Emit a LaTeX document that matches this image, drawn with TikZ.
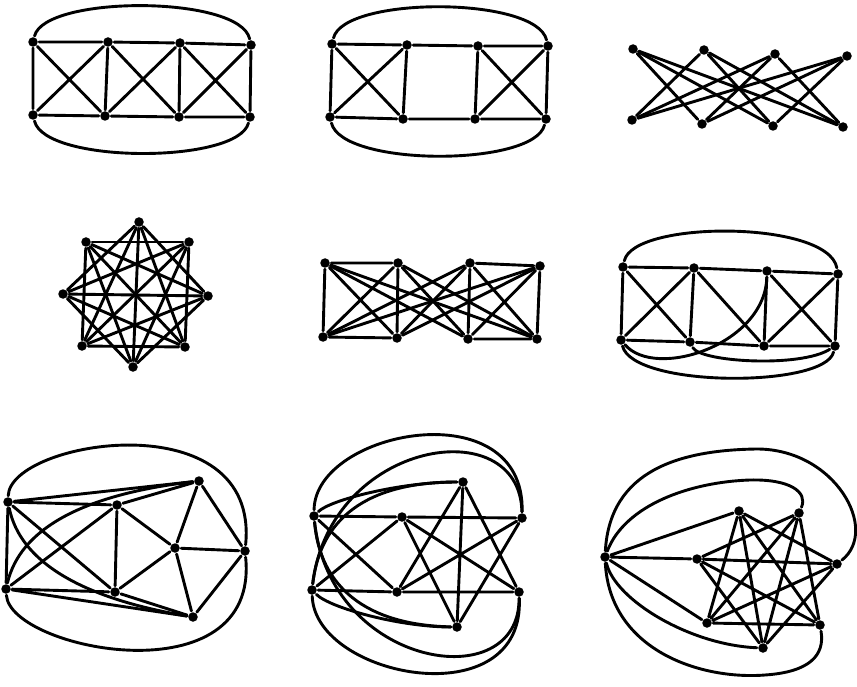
\documentclass[tikz,border=0pt]{standalone}
\begin{document}
\begin{tikzpicture}[x=1pt,y=-1pt,line width=2.9pt,line cap=round,line join=round,
  vtx/.style={circle,fill=black,inner sep=0pt,minimum size=9.5pt}]
\useasboundingbox (0,0) rectangle (857,687);
% ---------- Graph 1 ----------
\node[vtx] (a1) at (33,42) {};  \node[vtx] (a2) at (108,42) {};
\node[vtx] (a3) at (180,43) {}; \node[vtx] (a4) at (251,45) {};
\node[vtx] (a5) at (33,115) {}; \node[vtx] (a6) at (105,116) {};
\node[vtx] (a7) at (179,117) {};\node[vtx] (a8) at (250,117) {};
\draw (a1)--(a2)--(a3)--(a4) (a5)--(a6)--(a7)--(a8)
      (a1)--(a5) (a2)--(a6) (a3)--(a7) (a4)--(a8)
      (a1)--(a6) (a2)--(a5) (a2)--(a7) (a3)--(a6) (a3)--(a8) (a4)--(a7);
\draw (a1) .. controls (45,-5) and (240,-5) .. (a4);
\draw (a5) .. controls (45,164) and (238,164) .. (a8);
% ---------- Graph 2 ----------
\node[vtx] (b1) at (332,44) {};  \node[vtx] (b2) at (407,45) {};
\node[vtx] (b3) at (478,46) {};  \node[vtx] (b4) at (548,46) {};
\node[vtx] (b5) at (330,117) {}; \node[vtx] (b6) at (403,119) {};
\node[vtx] (b7) at (475,119) {}; \node[vtx] (b8) at (546,119) {};
\draw (b1)--(b2)--(b3)--(b4) (b5)--(b6)--(b7)--(b8)
      (b1)--(b5) (b2)--(b6) (b3)--(b7) (b4)--(b8)
      (b1)--(b6) (b2)--(b5) (b3)--(b8) (b4)--(b7);
\draw (b1) .. controls (344,-4) and (536,-4) .. (b4);
\draw (b5) .. controls (342,167) and (534,167) .. (b8);
% ---------- Graph 3 ----------
\node[vtx] (c1) at (633,49) {};  \node[vtx] (c2) at (704,50) {};
\node[vtx] (c3) at (775,54) {};  \node[vtx] (c4) at (847,56) {};
\node[vtx] (c5) at (632,120) {}; \node[vtx] (c6) at (702,124) {};
\node[vtx] (c7) at (773,126) {}; \node[vtx] (c8) at (843,127) {};
\foreach \i in {1,...,4}{\foreach \j in {5,...,8}{
  \pgfmathtruncatemacro\m{\j-4}
  \ifnum\i=\m\relax\else\draw (c\i)--(c\j);\fi}}
% ---------- Graph 4 (K8 minus the outer 8-cycle) ----------
\node[vtx] (d1) at (139,222) {}; \node[vtx] (d2) at (189,242) {};
\node[vtx] (d3) at (208,296) {}; \node[vtx] (d4) at (185,347) {};
\node[vtx] (d5) at (133,367) {}; \node[vtx] (d6) at (82,346) {};
\node[vtx] (d7) at (63,294) {};  \node[vtx] (d8) at (86,242) {};
\foreach \i in {1,...,6}{\pgfmathtruncatemacro\k{\i+2}
  \foreach \j in {\k,...,8}{
    \ifnum\i=1\relax\ifnum\j=8\relax\else\draw (d\i)--(d\j);\fi
    \else\draw (d\i)--(d\j);\fi}}
% ---------- Graph 5 ----------
\node[vtx] (e1) at (325,263) {}; \node[vtx] (e2) at (398,263) {};
\node[vtx] (e3) at (470,263) {}; \node[vtx] (e4) at (540,266) {};
\node[vtx] (e5) at (323,337) {}; \node[vtx] (e6) at (397,338) {};
\node[vtx] (e7) at (468,339) {}; \node[vtx] (e8) at (537,339) {};
\draw (e1)--(e2) (e3)--(e4) (e5)--(e6) (e7)--(e8);
\foreach \i in {1,...,4}{\foreach \j in {5,...,8}{\draw (e\i)--(e\j);}}
% ---------- Graph 6 ----------
\node[vtx] (f1) at (623,267) {}; \node[vtx] (f2) at (694,268) {};
\node[vtx] (f3) at (767,271) {}; \node[vtx] (f4) at (838,274) {};
\node[vtx] (f5) at (621,340) {}; \node[vtx] (f6) at (690,342) {};
\node[vtx] (f7) at (764,346) {}; \node[vtx] (f8) at (835,346) {};
\draw (f1)--(f2)--(f3)--(f4) (f5)--(f6)--(f7)--(f8)
      (f1)--(f5) (f2)--(f6) (f3)--(f7) (f4)--(f8)
      (f1)--(f6) (f2)--(f5) (f2)--(f7) (f3)--(f8) (f4)--(f7);
\draw (f1) .. controls (633,220) and (828,220) .. (f4);
\draw (f5) .. controls (633,388) and (825,388) .. (f8);
\draw (f3) .. controls (765,345) and (655,380) .. (f5);
\draw (f6) .. controls (700,362) and (800,368) .. (f8);
% ---------- Graph 7 ----------
\node[vtx] (s1) at (8,502) {};   \node[vtx] (s2) at (117,505) {};
\node[vtx] (s3) at (199,481) {}; \node[vtx] (s4) at (175,548) {};
\node[vtx] (s5) at (245,551) {}; \node[vtx] (s6) at (6,589) {};
\node[vtx] (s7) at (115,592) {}; \node[vtx] (s8) at (193,617) {};
\draw (s1)--(s2) (s1)--(s3) (s2)--(s3) (s1)--(s6) (s1)--(s7) (s6)--(s2)
      (s6)--(s7) (s6)--(s8) (s7)--(s8) (s2)--(s7) (s2)--(s4) (s7)--(s4)
      (s3)--(s4) (s4)--(s8) (s4)--(s5) (s3)--(s5) (s5)--(s8);
\draw (s6) .. controls (20,530) and (80,495) .. (s3);
\draw (s1) .. controls (20,561) and (80,598) .. (s8);
\draw (s1) .. controls (10,440) and (260,400) .. (s5);
\draw (s6) .. controls (10,650) and (260,700) .. (s5);
% ---------- Graph 8 ----------
\node[vtx] (p1) at (314,516) {}; \node[vtx] (p2) at (402,517) {};
\node[vtx] (p3) at (463,482) {}; \node[vtx] (p4) at (522,518) {};
\node[vtx] (p5) at (312,590) {}; \node[vtx] (p6) at (397,592) {};
\node[vtx] (p7) at (457,627) {}; \node[vtx] (p8) at (519,592) {};
\draw (p1)--(p2)--(p4) (p5)--(p6)--(p8) (p1)--(p6) (p5)--(p2)
      (p2)--(p7) (p6)--(p3) (p2)--(p8) (p6)--(p4) (p3)--(p8) (p4)--(p7) (p3)--(p7);
\draw (p1) .. controls (330,500) and (400,482) .. (p3);
\draw (p5) .. controls (320,520) and (365,482) .. (p3);
\draw (p1) .. controls (320,586) and (365,625) .. (p7);
\draw (p5) .. controls (330,608) and (400,627) .. (p7);
\draw (p1) .. controls (315,430) and (525,390) .. (p4);
\draw (p5) .. controls (330,440) and (520,410) .. (p4);
\draw (p5) .. controls (315,678) and (525,718) .. (p8);
\draw (p1) .. controls (330,668) and (520,698) .. (p8);
% ---------- Graph 9 ----------
\node[vtx] (q0) at (605,557) {};
\node[vtx] (q1) at (739,511) {}; \node[vtx] (q2) at (799,513) {};
\node[vtx] (q3) at (697,559) {}; \node[vtx] (q4) at (837,564) {};
\node[vtx] (q5) at (707,623) {}; \node[vtx] (q6) at (820,625) {};
\node[vtx] (q7) at (763,648) {};
% seven-pointed star: all chords except the heptagon sides
\draw (q1)--(q5) (q1)--(q7) (q1)--(q6) (q1)--(q4)
      (q3)--(q7) (q3)--(q6) (q3)--(q4) (q3)--(q2)
      (q5)--(q6) (q5)--(q4) (q5)--(q2)
      (q7)--(q4) (q7)--(q2)
      (q6)--(q2);
\draw (q0)--(q1) (q0)--(q3) (q0)--(q5);
\draw (q0) .. controls (610,470) and (680,450) .. (757,449)
           .. controls (835,449) and (880,530) .. (q4);
\draw (q0) .. controls (625,505) and (690,482) .. (750,480)
           .. controls (790,479) and (808,492) .. (q2);
\draw (q0) .. controls (615,600) and (690,645) .. (q7);
\draw (q0) .. controls (610,650) and (700,680) .. (765,675)
           .. controls (810,672) and (825,655) .. (q6);
\end{tikzpicture}
\end{document}
